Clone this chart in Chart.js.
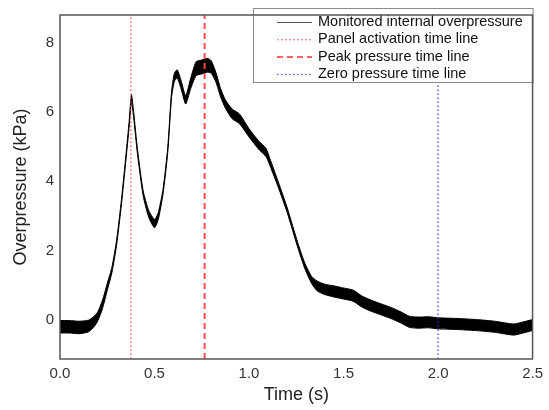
<!DOCTYPE html>
<html>
<head>
<meta charset="utf-8">
<script src="https://cdn.jsdelivr.net/npm/chart.js@4.4.1/dist/chart.umd.min.js"></script>
<style>
  html, body { margin: 0; padding: 0; background: #fff; }
</style>
</head>
<body>
<canvas id="canvas" width="549" height="410"></canvas>
<script>
// values: time (s), middle of the noisy trace (kPa), half thickness of noise band (kPa)
var time = [0, 0.05, 0.1, 0.15, 0.18, 0.2, 0.225, 0.25, 0.275, 0.3, 0.325, 0.35, 0.365, 0.378, 0.39,
  0.41, 0.44, 0.47, 0.5, 0.52, 0.545, 0.57, 0.59, 0.605, 0.62, 0.64, 0.665, 0.69, 0.72, 0.75,
  0.78, 0.8, 0.825, 0.85, 0.875, 0.91, 0.95, 1.0, 1.05, 1.09, 1.11, 1.155, 1.2, 1.225, 1.26,
  1.295, 1.33, 1.36, 1.4, 1.45, 1.5, 1.55, 1.6, 1.65, 1.7, 1.75, 1.8, 1.85, 1.9, 1.95,
  2.0, 2.1, 2.2, 2.3, 2.4, 2.45, 2.5];
var pressure = [-0.2, -0.2, -0.22, -0.18, -0.05, 0.1, 0.45, 0.95, 1.45, 2.25, 3.4, 4.75, 5.6, 6.4, 5.9,
  4.85, 3.65, 3.05, 2.78, 3.0, 3.7, 4.9, 6.5, 7.0, 7.1, 6.8, 6.35, 6.8, 7.25, 7.3,
  7.35, 7.3, 7.0, 6.55, 6.23, 5.95, 5.8, 5.4, 5.05, 4.83, 4.56, 3.9, 3.2, 2.75, 2.12,
  1.56, 1.16, 0.98, 0.88, 0.82, 0.76, 0.7, 0.52, 0.4, 0.3, 0.2, 0.08, -0.06, -0.08, -0.07,
  -0.1, -0.12, -0.15, -0.2, -0.28, -0.22, -0.15];
var noise = [0.18, 0.18, 0.18, 0.17, 0.15, 0.13, 0.12, 0.1, 0.08, 0.07, 0.07, 0.07, 0.08, 0.1, 0.08,
  0.07, 0.07, 0.1, 0.12, 0.1, 0.07, 0.07, 0.08, 0.12, 0.12, 0.12, 0.12, 0.15, 0.2, 0.2,
  0.2, 0.18, 0.14, 0.12, 0.12, 0.14, 0.14, 0.12, 0.12, 0.12, 0.1, 0.08, 0.07, 0.07, 0.07,
  0.08, 0.1, 0.14, 0.15, 0.16, 0.16, 0.16, 0.16, 0.16, 0.16, 0.16, 0.16, 0.16, 0.16, 0.16,
  0.16, 0.16, 0.16, 0.16, 0.16, 0.16, 0.16];

var panelTime = 0.375;
var peakTime = 0.765;
var zeroTime = 2.0;

var xTicks = [0, 0.5, 1.0, 1.5, 2.0, 2.5];
var yTicks = [0, 2, 4, 6, 8];
var legendLabels = ['Monitored internal overpressure', 'Panel activation time line',
  'Peak pressure time line', 'Zero pressure time line'];

var yMin = -1.13, yMax = 8.8;
var FONT = '"Liberation Sans", Arial, sans-serif';

var lower = time.map(function(t, i) { return { x: t, y: pressure[i] - noise[i] }; });
var upper = time.map(function(t, i) { return { x: t, y: pressure[i] + noise[i] }; });

function vline(t, color, dash, width) {
  return {
    data: [{ x: t, y: yMin }, { x: t, y: yMax }],
    borderColor: color, borderDash: dash, borderWidth: width,
    pointRadius: 0, fill: false, order: 0
  };
}

// legend box + plot frame
var extras = {
  id: 'extras',
  afterDraw: function(chart) {
    var ctx = chart.ctx, a = chart.chartArea;
    ctx.save();
    // legend
    var lx = 253, ly = 8, lw = a.right - 253, lh = 74;
    ctx.fillStyle = '#fff';
    ctx.fillRect(lx, ly, lw, lh);
    ctx.strokeStyle = '#8a8a8a';
    ctx.lineWidth = 1;
    ctx.strokeRect(lx + 0.5, ly + 0.5, lw, lh);
    var styles = [
      { c: '#555', d: [], w: 1 },
      { c: '#ff4040', d: [1.5, 2.5], w: 1 },
      { c: '#ff3030', d: [6, 4], w: 1.5 },
      { c: '#3333ff', d: [1.5, 2.5], w: 1 }
    ];
    ctx.font = '14.5px ' + FONT;
    ctx.textBaseline = 'middle';
    ctx.fillStyle = '#111';
    legendLabels.forEach(function(lab, i) {
      var y = 22 + i * 17.3;
      ctx.beginPath();
      ctx.setLineDash(styles[i].d);
      ctx.strokeStyle = styles[i].c;
      ctx.lineWidth = styles[i].w;
      ctx.moveTo(277, y + 0.5);
      ctx.lineTo(312, y + 0.5);
      ctx.stroke();
      ctx.setLineDash([]);
      ctx.fillText(lab, 318, y);
    });
    // frame
    ctx.strokeStyle = '#555';
    ctx.lineWidth = 1.5;
    ctx.strokeRect(a.left, a.top, a.right - a.left, a.bottom - a.top);
    ctx.restore();
  }
};

var ctx = document.getElementById('canvas').getContext('2d');
var myChart = new Chart(ctx, {
  type: 'line',
  data: {
    datasets: [
      vline(panelTime, '#ff3b3b', [1.5, 2.5], 1.2),
      vline(peakTime, '#ff4848', [6, 4], 2),
      vline(zeroTime, '#3333ff', [1.5, 2.5], 1.2),
      { data: lower, borderColor: '#000', borderWidth: 1, pointRadius: 0, fill: false, tension: 0.2, order: 1 },
      { data: upper, borderColor: '#000', borderWidth: 1, pointRadius: 0, fill: '-1', backgroundColor: '#000', tension: 0.2, order: 1 }
    ]
  },
  options: {
    responsive: false,
    animation: false,
    layout: { padding: { top: 8, right: 13, left: 0, bottom: 0 } },
    plugins: { legend: { display: false }, tooltip: { enabled: false } },
    scales: {
      x: {
        type: 'linear', min: 0, max: 2.5,
        grid: { display: false, drawTicks: false }, border: { display: false },
        afterBuildTicks: function(s) { s.ticks = xTicks.map(function(v) { return { value: v }; }); },
        afterFit: function(s) { s.height = 51; },
        ticks: { padding: 6, color: '#333', font: { family: FONT, size: 15 },
          callback: function(v) { return v.toFixed(1); } },
        title: { display: true, text: 'Time (s)', color: '#222', font: { family: FONT, size: 18 },
          padding: { top: 4, bottom: 4 } }
      },
      y: {
        type: 'linear', min: yMin, max: yMax,
        grid: { display: false, drawTicks: false }, border: { display: false },
        afterBuildTicks: function(s) { s.ticks = yTicks.map(function(v) { return { value: v }; }); },
        afterFit: function(s) { s.width = 60; },
        ticks: { padding: 6, color: '#333', font: { family: FONT, size: 15 } },
        title: { display: true, text: 'Overpressure (kPa)', color: '#222', font: { family: FONT, size: 18 },
          padding: { top: 10, bottom: 4 } }
      }
    }
  },
  plugins: [extras]
});
</script>
</body>
</html>
